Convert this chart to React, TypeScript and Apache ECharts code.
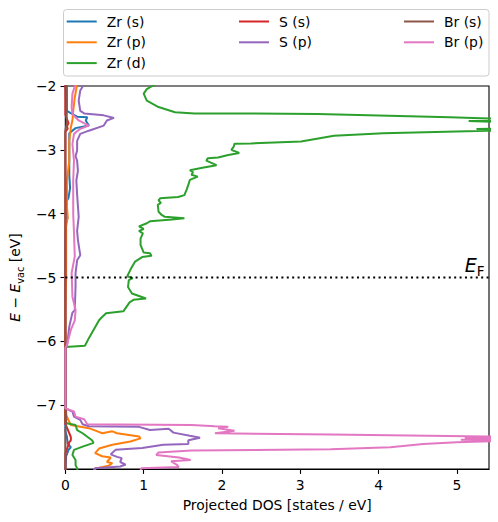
import React, { useEffect, useRef } from "react";
import * as echarts from "echarts";

const FONT = "DejaVu Sans";

// Projected DOS data: [DOS (states/eV), E - E_vac (eV)]
const zrS: number[][] = [
  [0.0, -1.9], [0.01, -2.3], [0.02, -2.39], [0.09, -2.44], [0.15, -2.48], [0.28, -2.49], [0.26, -2.54],
  [0.3, -2.62], [0.13, -2.66], [0.05, -2.74], [0.05, -3.0], [0.05, -3.4], [0.06, -3.6], [0.04, -3.75],
  [0.02, -3.8], [0.01, -4.05], [0.03, -4.07], [0.01, -4.1], [0.0, -4.5], [0.0, -7.4], [0.02, -7.5],
  [0.03, -7.6], [0.07, -7.66], [0.04, -7.7], [0.01, -7.8], [0.0, -8.05],
];

const zrP: number[][] = [
  [0.16, -1.9], [0.15, -1.97], [0.12, -2.18], [0.1, -2.39], [0.09, -2.54], [0.07, -2.65], [0.05, -2.86],
  [0.05, -3.17], [0.02, -3.48], [0.02, -3.9], [0.03, -4.05], [0.01, -4.2], [0.01, -5.0], [0.0, -5.5],
  [0.0, -7.1], [0.0, -7.13], [0.05, -7.26], [0.07, -7.31], [0.3, -7.36], [0.41, -7.41], [0.47, -7.44],
  [0.6, -7.41], [0.66, -7.44], [0.94, -7.49], [0.96, -7.52], [0.83, -7.57], [0.6, -7.62], [0.43, -7.68],
  [0.38, -7.75], [0.47, -7.8], [0.58, -7.82], [0.53, -7.89], [0.6, -7.91], [0.55, -7.95], [0.43, -7.98],
  [0.38, -7.99], [0.36, -8.05],
];

const zrD: number[][] = [
  [1.2, -1.9], [1.15, -1.97], [1.04, -2.05], [1.0, -2.12], [1.04, -2.23], [1.19, -2.33], [1.4, -2.41],
  [1.65, -2.43], [2.37, -2.43], [3.22, -2.44], [4.91, -2.49], [5.41, -2.51], [6.2, -2.53], [5.15, -2.55],
  [5.8, -2.57], [7.5, -2.62], [5.8, -2.66], [5.25, -2.675], [6.5, -2.69], [5.39, -2.7], [4.06, -2.74],
  [3.43, -2.78], [3.01, -2.87], [2.37, -2.9], [2.16, -2.905], [2.15, -2.95], [2.12, -3.0], [2.22, -3.05],
  [2.08, -3.08], [1.95, -3.12], [1.82, -3.13], [1.8, -3.17], [1.93, -3.24], [1.75, -3.28], [1.59, -3.32],
  [1.63, -3.35], [1.61, -3.39], [1.69, -3.42], [1.59, -3.47], [1.57, -3.55], [1.55, -3.62], [1.52, -3.71],
  [1.44, -3.74], [1.21, -3.76], [1.19, -3.79], [1.22, -3.83], [1.18, -3.86], [1.19, -3.97], [1.23, -4.02],
  [1.27, -4.05], [1.52, -4.07], [1.36, -4.09], [1.08, -4.12], [1.04, -4.15], [0.94, -4.2], [1.0, -4.24],
  [0.94, -4.27], [0.99, -4.31], [0.96, -4.39], [0.96, -4.49], [1.0, -4.61], [1.08, -4.62], [1.1, -4.66],
  [0.98, -4.68], [0.89, -4.75], [0.83, -4.88], [0.79, -4.98], [0.86, -5.01], [0.81, -5.04], [0.8, -5.15],
  [0.85, -5.25], [0.94, -5.29], [1.03, -5.33], [0.87, -5.35], [0.82, -5.39], [0.74, -5.53], [0.52, -5.56],
  [0.46, -5.63], [0.43, -5.67], [0.3, -5.95], [0.25, -6.07], [0.0, -6.09], [0.0, -7.28], [0.13, -7.31],
  [0.15, -7.39], [0.22, -7.44], [0.34, -7.55], [0.36, -7.59], [0.22, -7.65], [0.11, -7.7], [0.09, -7.78],
  [0.13, -7.86], [0.13, -7.94], [0.15, -7.99], [0.16, -8.05],
];

const sS: number[][] = [
  [0.0, -1.9], [0.0, -2.45], [0.02, -2.52], [0.04, -2.58], [0.02, -2.63], [0.03, -2.67], [0.0, -2.72],
  [0.0, -7.3], [0.02, -7.35], [0.05, -7.44], [0.07, -7.5], [0.07, -7.55], [0.05, -7.58], [0.02, -7.69],
  [0.0, -7.75], [0.0, -8.05],
];

const sP: number[][] = [
  [0.26, -1.9], [0.24, -1.97], [0.19, -2.07], [0.17, -2.23], [0.19, -2.39], [0.24, -2.43], [0.49, -2.46],
  [0.62, -2.5], [0.53, -2.54], [0.49, -2.62], [0.3, -2.7], [0.19, -2.75], [0.15, -2.86], [0.15, -3.01],
  [0.13, -3.1], [0.15, -3.17], [0.16, -3.33], [0.14, -3.48], [0.15, -3.7], [0.17, -4.05], [0.15, -4.27],
  [0.16, -4.41], [0.19, -4.65], [0.15, -4.73], [0.13, -4.93], [0.13, -5.14], [0.12, -5.51], [0.09, -5.55],
  [0.05, -5.77], [0.02, -6.08], [0.0, -6.1], [0.0, -7.05], [0.09, -7.1], [0.11, -7.18], [0.19, -7.23],
  [0.22, -7.3], [0.3, -7.33], [0.94, -7.34], [1.08, -7.39], [1.32, -7.37], [1.38, -7.43], [1.59, -7.48],
  [1.72, -7.51], [1.57, -7.55], [1.57, -7.61], [1.25, -7.62], [0.98, -7.67], [0.64, -7.7], [0.58, -7.77],
  [0.66, -7.81], [0.72, -7.83], [0.7, -7.89], [0.77, -7.93], [0.7, -7.96], [0.38, -7.99], [0.35, -8.05],
];

const brS: number[][] = [
  [0.02, -1.9], [0.02, -2.3], [0.015, -2.6], [0.0, -2.7], [0.0, -7.0], [0.01, -7.1], [0.01, -7.3],
  [0.0, -7.4], [0.0, -8.05],
];

const brP: number[][] = [
  [0.14, -1.9], [0.13, -1.97], [0.09, -2.12], [0.08, -2.33], [0.09, -2.44], [0.17, -2.54], [0.3, -2.62],
  [0.19, -2.67], [0.11, -2.75], [0.09, -2.91], [0.11, -3.17], [0.1, -3.48], [0.1, -4.0], [0.11, -4.3],
  [0.12, -4.67], [0.08, -4.93], [0.09, -5.3], [0.13, -5.51], [0.12, -5.67], [0.07, -5.82], [0.02, -6.06],
  [0.0, -6.1], [0.0, -7.05], [0.11, -7.1], [0.13, -7.18], [0.24, -7.22], [0.28, -7.3], [1.61, -7.31],
  [1.91, -7.33], [2.08, -7.34], [1.95, -7.36], [2.16, -7.4], [1.91, -7.44], [3.39, -7.46], [5.38, -7.49],
  [5.8, -7.5], [5.1, -7.51], [5.9, -7.525], [5.05, -7.54], [5.7, -7.555], [5.0, -7.58], [4.57, -7.61],
  [4.15, -7.66], [3.39, -7.69], [1.61, -7.71], [1.19, -7.74], [1.16, -7.78], [1.45, -7.82], [1.6, -7.86],
  [1.35, -7.88], [1.42, -7.93], [1.45, -7.97], [0.97, -7.99], [0.95, -8.05],
];

const fermiLevel = -5;
const xRange = [0, 5.41];
const yRange = [-8, -2];
const xTicks = [0, 1, 2, 3, 4, 5];
const yTicks = [-7, -6, -5, -4, -3, -2];

const seriesNames = ["Zr (s)", "Zr (p)", "Zr (d)", "S (s)", "S (p)", "Br (s)", "Br (p)"];
const seriesData = [zrS, zrP, zrD, sS, sP, brS, brP];
const seriesColors = ["#1f77b4", "#ff7f0e", "#2ca02c", "#d62728", "#9467bd", "#8c564b", "#e377c2"];

const legendColumns = [
  ["Zr (s)", "Zr (p)", "Zr (d)"],
  ["S (s)", "S (p)"],
  ["Br (s)", "Br (p)"],
];
const legendLefts = [66.7, 239, 404];

export default function App() {
  const ref = useRef<HTMLDivElement>(null);

  useEffect(() => {
    if (!ref.current) return;
    const chart = echarts.init(ref.current, null, { renderer: "svg" });

    const lines: any[] = seriesNames.map((name, i) => ({
      name,
      type: "line",
      data: seriesData[i],
      showSymbol: false,
      symbol: "none",
      clip: true,
      lineStyle: { color: seriesColors[i], width: 2 },
      itemStyle: { color: seriesColors[i] },
      silent: true,
    }));

    lines.push({
      name: "EF",
      type: "line",
      data: [
        [xRange[0], fermiLevel],
        [xRange[1], fermiLevel],
      ],
      symbol: "none",
      silent: true,
      lineStyle: { color: "#000", width: 2, type: [2, 3.4] },
      markPoint: {
        symbol: "rect",
        symbolSize: 1,
        itemStyle: { color: "transparent" },
        data: [{ coord: [xRange[1], fermiLevel] }],
        label: {
          show: true,
          position: [0, 0],
          align: "right",
          verticalAlign: "bottom",
          offset: [-4, 1],
          formatter: "{e|E}{f|F}",
          rich: {
            e: { fontFamily: FONT, fontStyle: "italic", fontSize: 19, color: "#000", verticalAlign: "bottom", padding: [0, 0, 4, 0] },
            f: { fontFamily: FONT, fontSize: 13.5, color: "#000", verticalAlign: "bottom" },
          },
        },
      },
    });

    const legends = legendColumns.map((col, i) => ({
      data: col,
      orient: "vertical",
      left: legendLefts[i],
      top: 14.5,
      padding: 0,
      itemGap: 6.8,
      itemWidth: 30,
      itemHeight: 2,
      icon: "rect",
      selectedMode: false,
      textStyle: { fontFamily: FONT, fontSize: 13.9, color: "#000", lineHeight: 14, padding: [0, 0, 0, 5] },
    }));

    chart.setOption({
      animation: false,
      backgroundColor: "#fff",
      grid: { left: 63, right: 9, top: 86, bottom: 53, show: true, borderColor: "#000", borderWidth: 1.1, backgroundColor: "transparent" },
      legend: legends,
      graphic: [
        {
          type: "rect",
          z: -1,
          shape: { x: 63.5, y: 9.5, width: 425.5, height: 66.5, r: 3 },
          style: { fill: "#fff", stroke: "#cccccc", lineWidth: 1 },
        },
      ],
      xAxis: {
        type: "value",
        min: xRange[0],
        max: xRange[1],
        interval: 1,
        splitLine: { show: false },
        axisLine: { show: true, lineStyle: { color: "#000", width: 1.1 } },
        axisTick: { show: true, length: 4.9, lineStyle: { color: "#000", width: 1.1 }, customValues: xTicks },
        axisLabel: { color: "#000", fontFamily: FONT, fontSize: 13.9, margin: 9, customValues: xTicks },
        name: "Projected DOS [states / eV]",
        nameLocation: "middle",
        nameGap: 29,
        nameTextStyle: { color: "#000", fontFamily: FONT, fontSize: 13.9 },
      },
      yAxis: {
        type: "value",
        min: yRange[0],
        max: yRange[1],
        interval: 1,
        splitLine: { show: false },
        axisLine: { show: true, lineStyle: { color: "#000", width: 1.1 } },
        axisTick: { show: true, length: 4.9, lineStyle: { color: "#000", width: 1.1 }, customValues: yTicks },
        axisLabel: {
          color: "#000",
          fontFamily: FONT,
          fontSize: 13.9,
          margin: 9,
          customValues: yTicks,
          formatter: (v: number) => (v < 0 ? "\u2212" + Math.abs(v) : String(v)),
        },
        name: "{i|E}{n| \u2212 }{i|E}{s|vac}{n| [eV]}",
        nameLocation: "middle",
        nameGap: 35,
        nameRotate: 90,
        nameTextStyle: {
          color: "#000",
          fontFamily: FONT,
          fontSize: 13.9,
          rich: {
            i: { fontFamily: FONT, fontStyle: "italic", fontSize: 13.9, color: "#000", verticalAlign: "bottom", padding: [0, 0, 3, 0] },
            n: { fontFamily: FONT, fontSize: 13.9, color: "#000", verticalAlign: "bottom", padding: [0, 0, 3, 0] },
            s: { fontFamily: FONT, fontSize: 9.7, color: "#000", verticalAlign: "bottom" },
          },
        },
      },
      series: lines,
    });

    return () => chart.dispose();
  }, []);

  return <div ref={ref} style={{ position: "fixed", left: 0, top: 0, width: 498, height: 522 }} />;
}
